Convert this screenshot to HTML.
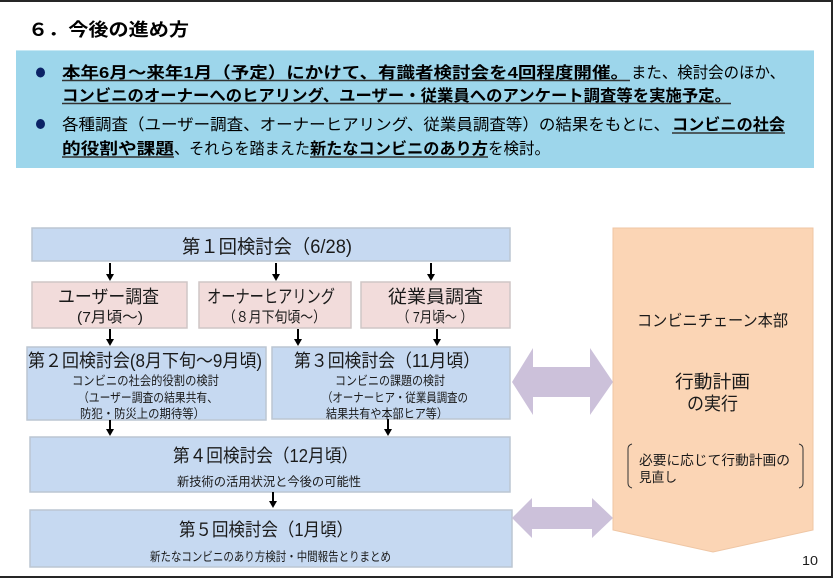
<!DOCTYPE html>
<html><head><meta charset="utf-8">
<style>
html,body{margin:0;padding:0;background:#fff;}
svg{display:block;}
text{font-family:"Liberation Sans","Noto Sans CJK JP",sans-serif;}
</style></head>
<body>
<svg width="833" height="578" viewBox="0 0 833 578" xmlns="http://www.w3.org/2000/svg">
<rect x="0" y="0" width="833" height="578" fill="#fff"/>
<!-- frame -->
<rect x="0" y="0" width="833" height="2" fill="#262626"/>
<rect x="831" y="0" width="2" height="578" fill="#262626"/>
<rect x="0" y="576" width="833" height="2" fill="#262626"/>

<!-- title -->
<text x="28" y="36" font-size="18" font-weight="bold" fill="#000" textLength="161" lengthAdjust="spacingAndGlyphs">６．今後の進め方</text>

<!-- banner -->
<rect x="16" y="50" width="798" height="118" fill="#9dd6eb"/>
<rect x="16" y="50" width="798" height="1" fill="#c6e8f4"/>
<ellipse cx="40.5" cy="72.5" rx="4.5" ry="5" fill="#0c2366"/>
<ellipse cx="40.5" cy="124" rx="4.5" ry="5" fill="#0c2366"/>

<g font-size="16" fill="#000">
<text x="62" y="78" font-weight="bold" textLength="567" lengthAdjust="spacingAndGlyphs">本年6月～来年1月（予定）にかけて、有識者検討会を4回程度開催。</text>
<text x="631" y="78" textLength="154" lengthAdjust="spacingAndGlyphs">また、検討会のほか、</text>
<text x="62" y="101" font-weight="bold" textLength="669" lengthAdjust="spacingAndGlyphs">コンビニのオーナーへのヒアリング、ユーザー・従業員へのアンケート調査等を実施予定。</text>
<text x="62" y="130" textLength="608" lengthAdjust="spacingAndGlyphs">各種調査（ユーザー調査、オーナーヒアリング、従業員調査等）の結果をもとに、</text>
<text x="672" y="130" font-weight="bold" textLength="113" lengthAdjust="spacingAndGlyphs">コンビニの社会</text>
<text x="62" y="154" font-weight="bold" textLength="112" lengthAdjust="spacingAndGlyphs">的役割や課題</text>
<text x="174" y="154" textLength="136" lengthAdjust="spacingAndGlyphs">、それらを踏まえた</text>
<text x="310" y="154" font-weight="bold" textLength="178" lengthAdjust="spacingAndGlyphs">新たなコンビニのあり方</text>
<text x="488" y="154" textLength="62" lengthAdjust="spacingAndGlyphs">を検討。</text>
</g>
<g stroke="#333" stroke-width="1.5">
<line x1="62" y1="80.5" x2="630" y2="80.5"/>
<line x1="62" y1="103.5" x2="731" y2="103.5"/>
<line x1="672" y1="133" x2="785" y2="133"/>
<line x1="62" y1="157" x2="174" y2="157"/>
<line x1="310" y1="157" x2="488" y2="157"/>
</g>

<!-- boxes -->
<g stroke="#bcc6d2" stroke-width="1.5">
<rect x="32" y="228" width="478" height="33" fill="#c6d9f1"/>
<rect x="32" y="282" width="155" height="46" fill="#f2dcdb" stroke="#cfc6c6"/>
<rect x="199" y="282" width="152" height="46" fill="#f2dcdb" stroke="#cfc6c6"/>
<rect x="361" y="282" width="149" height="46" fill="#f2dcdb" stroke="#cfc6c6"/>
<rect x="27" y="347" width="239" height="73" fill="#c6d9f1"/>
<rect x="272" y="347" width="238" height="72" fill="#c6d9f1"/>
<rect x="30" y="437" width="480" height="55" fill="#c6d9f1"/>
<rect x="30" y="510" width="482" height="57" fill="#c6d9f1"/>
</g>

<!-- orange pentagon -->
<polygon points="613,228 813,228 813,530 713,552 613,530" fill="#fbd5b5" stroke="#efc6a4" stroke-width="1"/>

<!-- double arrows -->
<polygon points="512,382 533,348 533,367 590,367 590,348 613,382 590,415 590,397 533,397 533,415" fill="#ccc1da"/>
<polygon points="512,518 532,498 532,507 592,507 592,498 613,518 592,538 592,529 532,529 532,538" fill="#ccc1da"/>

<!-- black arrows -->
<g fill="#000">
<rect x="109" y="263" width="2" height="12"/><polygon points="106,274 114,274 110,281"/>
<rect x="275" y="263" width="2" height="12"/><polygon points="272,274 280,274 276,281"/>
<rect x="430" y="263" width="2" height="12"/><polygon points="427,274 435,274 431,281"/>
<rect x="109" y="329" width="2" height="11"/><polygon points="106,339 114,339 110,346"/>
<rect x="297" y="329" width="2" height="11"/><polygon points="294,339 302,339 298,346"/>
<rect x="436" y="329" width="2" height="11"/><polygon points="433,339 441,339 437,346"/>
<rect x="109" y="420" width="2" height="10"/><polygon points="106,429 114,429 110,436"/>
<rect x="387" y="419" width="2" height="11"/><polygon points="384,429 392,429 388,436"/>
<rect x="272" y="492" width="2" height="10"/><polygon points="269,501 277,501 273,508"/>
</g>

<!-- diagram text -->
<g fill="#1a1a1a">
<text x="182" y="253" font-size="19" textLength="170" lengthAdjust="spacingAndGlyphs">第１回検討会（6/28)</text>

<text x="58" y="303" font-size="18" textLength="101" lengthAdjust="spacingAndGlyphs">ユーザー調査</text>
<text x="77" y="322" font-size="15" textLength="66" lengthAdjust="spacingAndGlyphs">(7月頃～)</text>
<text x="207" y="303" font-size="18" textLength="128" lengthAdjust="spacingAndGlyphs">オーナーヒアリング</text>
<text x="223" y="322" font-size="15" textLength="103" lengthAdjust="spacingAndGlyphs">（８月下旬頃～）</text>
<text x="388" y="303" font-size="18" textLength="95" lengthAdjust="spacingAndGlyphs">従業員調査</text>
<text x="397" y="322" font-size="15" textLength="76" lengthAdjust="spacingAndGlyphs">（ 7月頃～ ）</text>

<text x="28" y="367" font-size="18" textLength="234" lengthAdjust="spacingAndGlyphs">第２回検討会(8月下旬～9月頃)</text>
<text x="72" y="385" font-size="12.5" textLength="147" lengthAdjust="spacingAndGlyphs">コンビニの社会的役割の検討</text>
<text x="78" y="402" font-size="12.5" textLength="140" lengthAdjust="spacingAndGlyphs">（ユーザー調査の結果共有、</text>
<text x="80" y="418" font-size="12.5" textLength="125" lengthAdjust="spacingAndGlyphs">防犯・防災上の期待等）</text>

<text x="294" y="367" font-size="18" textLength="186" lengthAdjust="spacingAndGlyphs">第３回検討会（11月頃）</text>
<text x="335" y="385" font-size="12.5" textLength="110" lengthAdjust="spacingAndGlyphs">コンビニの課題の検討</text>
<text x="322" y="402" font-size="12.5" textLength="146" lengthAdjust="spacingAndGlyphs">（オーナーヒア・従業員調査の</text>
<text x="326" y="418" font-size="12.5" textLength="122" lengthAdjust="spacingAndGlyphs">結果共有や本部ヒア等）</text>

<text x="173" y="462" font-size="18" textLength="185" lengthAdjust="spacingAndGlyphs">第４回検討会（12月頃）</text>
<text x="177" y="486" font-size="12.5" textLength="184" lengthAdjust="spacingAndGlyphs">新技術の活用状況と今後の可能性</text>

<text x="179" y="536" font-size="18" textLength="174" lengthAdjust="spacingAndGlyphs">第５回検討会（1月頃）</text>
<text x="150" y="561" font-size="12.5" textLength="241" lengthAdjust="spacingAndGlyphs">新たなコンビニのあり方検討・中間報告とりまとめ</text>

<text x="637" y="326" font-size="16" textLength="151" lengthAdjust="spacingAndGlyphs">コンビニチェーン本部</text>
<text x="675" y="388" font-size="18" textLength="75" lengthAdjust="spacingAndGlyphs">行動計画</text>
<text x="687" y="410" font-size="18" textLength="51" lengthAdjust="spacingAndGlyphs">の実行</text>
<text x="639" y="465" font-size="13.5" textLength="151" lengthAdjust="spacingAndGlyphs">必要に応じて行動計画の</text>
<text x="639" y="482" font-size="13.5" textLength="38" lengthAdjust="spacingAndGlyphs">見直し</text>
<text x="802" y="565" font-size="13" textLength="16" lengthAdjust="spacingAndGlyphs">10</text>
</g>
<!-- brackets -->
<path d="M632,444 Q628,445 628,449 L628,483 Q628,487 632,488" fill="none" stroke="#333" stroke-width="1"/>
<path d="M799,444 Q803,445 803,449 L803,483 Q803,487 799,488" fill="none" stroke="#333" stroke-width="1"/>
</svg>
</body></html>
